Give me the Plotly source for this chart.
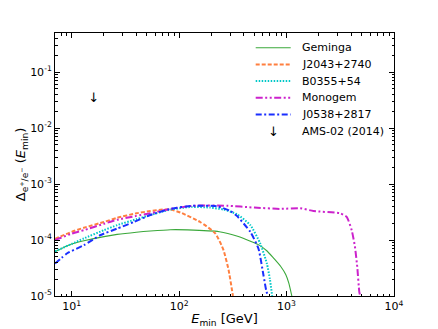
import plotly.graph_objects as go
import math

# ---- data ----
geminga_E = [7, 10, 13, 20, 26.5, 40, 54, 83, 120, 237, 350, 480, 556, 650, 740, 880, 985, 1050, 1120]
geminga_y = [6.2e-5, 8.5e-5, 9.7e-5, 1.15e-4, 1.26e-4, 1.38e-4, 1.45e-4, 1.53e-4, 1.52e-4,
             1.41e-4, 1.17e-4, 9.2e-5, 8.1e-5, 6.5e-5, 5.0e-5, 3.4e-5, 2.4e-5, 1.7e-5, 1.0e-5]

j2043_E = [7, 10, 13, 20, 26.5, 40, 54, 70, 83, 103, 157, 217, 259, 289, 317]
j2043_y = [1.05e-4, 1.4e-4, 1.66e-4, 2.1e-4, 2.5e-4, 3.0e-4, 3.3e-4, 3.5e-4, 3.5e-4,
           3.1e-4, 2.1e-4, 1.32e-4, 6.6e-5, 2.9e-5, 1.0e-5]

b0355_E = [7, 10, 13, 20, 26.5, 40, 54, 83, 130, 195, 260, 345, 460, 569, 656, 700, 735]
b0355_y = [6.3e-5, 8.5e-5, 1.07e-4, 1.5e-4, 1.85e-4, 2.35e-4, 2.8e-4, 3.5e-4, 3.9e-4,
           3.8e-4, 3.5e-4, 2.9e-4, 1.85e-4, 8.7e-5, 3.8e-5, 2.0e-5, 1.0e-5]

monogem_E = [7, 10, 13, 20, 26.5, 40, 54, 83, 136, 279, 500, 871, 1336, 1780, 3160, 3630,
             4040, 4330, 4550, 4750, 4850]
monogem_y = [1.0e-4, 1.3e-4, 1.5e-4, 1.95e-4, 2.3e-4, 2.7e-4, 3.0e-4, 3.6e-4, 4.1e-4,
             4.1e-4, 3.8e-4, 3.6e-4, 3.7e-4, 3.3e-4, 3.0e-4, 2.6e-4, 1.5e-4, 7.6e-5,
             3.3e-5, 1.2e-5, 1.0e-5]

j0538_E = [7, 9.1, 13, 18.6, 26.5, 37.9, 54, 83, 136, 226, 300, 345, 460, 548, 611, 650, 675]
j0538_y = [3.8e-5, 5.8e-5, 8.1e-5, 1.23e-4, 1.6e-4, 2.1e-4, 2.8e-4, 3.6e-4, 4.1e-4,
           4.0e-4, 3.3e-4, 2.7e-4, 1.4e-4, 7.0e-5, 2.3e-5, 1.2e-5, 1.0e-5]

ams_E = [16]
ams_y = [0.034]

x_tickvals = [10, 100, 1000, 10000]
x_ticktext = ["10<sup>1</sup>", "10<sup>2</sup>", "10<sup>3</sup>", "10<sup>4</sup>"]
y_tickvals = [1e-5, 1e-4, 1e-3, 1e-2, 1e-1]
y_ticktext = ["10<sup>-5</sup>", "10<sup>-4</sup>", "10<sup>-3</sup>", "10<sup>-2</sup>", "10<sup>-1</sup>"]

series = [
    ("Geminga", geminga_E, geminga_y, "#3aa83a", 1.1, "solid"),
    ("J2043+2740", j2043_E, j2043_y, "#ff7f3f", 2, "4px,2px"),
    ("B0355+54", b0355_E, b0355_y, "#00c8c8", 2, "1.5px,1.5px"),
    ("Monogem", monogem_E, monogem_y, "#cc22cc", 2, "7px,2.5px,2px,2.5px,2px,2.5px"),
    ("J0538+2817", j0538_E, j0538_y, "#1a2fff", 2, "6px,2.5px,2px,2.5px"),
]

FONT = "DejaVu Sans"
fig = go.Figure()
for name, E, y, color, w, dash in series:
    fig.add_trace(go.Scatter(x=E, y=y, mode="lines", name=name, showlegend=False,
                             line=dict(color=color, width=w, dash=dash, shape="spline", smoothing=0.5)))

fig.add_trace(go.Scatter(x=ams_E, y=ams_y, mode="text", text=["↓"], showlegend=False,
                         textfont=dict(size=13, color="black", family=FONT), name="AMS-02 (2014)"))

# page body has an 8px margin, so lay the figure out 8px up/left of the target pixels
OFF = 8
W, H = 438 - OFF, 329 - OFF
PL, PR, PT, PB = 55 - OFF, 394 - OFF, 33 - OFF, 296 - OFF
pw, ph = PR - PL, PB - PT
legend_labels = [s[0] for s in series] + ["AMS-02 (2014)"]
row0 = 1 - (47.7 - 33) / ph
drow = 16.7 / ph
x0s, x1s, xt = (255.7 - 55) / pw, (290.7 - 55) / pw, (300 - 55) / pw
for i, lab in enumerate(legend_labels):
    yy = row0 - i * drow
    if i < len(series):
        _, _, _, color, w, dash = series[i]
        fig.add_shape(type="line", xref="paper", yref="paper", x0=x0s, x1=x1s, y0=yy, y1=yy,
                      line=dict(color=color, width=w, dash=dash))
    else:
        fig.add_annotation(xref="paper", yref="paper", x=(x0s + x1s) / 2, y=yy, text="↓",
                           showarrow=False, font=dict(size=13, color="black", family=FONT),
                           xanchor="center", yanchor="middle")
    fig.add_annotation(xref="paper", yref="paper", x=xt, y=yy, text=lab, showarrow=False,
                       font=dict(size=11, color="black", family=FONT), xanchor="left", yanchor="middle")

x_minor = [m * 10 ** d for d in range(0, 4) for m in range(2, 10)]
y_minor = [m * 10.0 ** d for d in range(-5, 0) for m in range(2, 10)]

def axis_common(minor_vals):
    return dict(type="log", showline=True, linecolor="black", linewidth=1, mirror="allticks",
                ticks="inside", ticklen=5, tickwidth=1, tickcolor="black", showgrid=False,
                zeroline=False, automargin=False, tickfont=dict(size=11, family=FONT, color="black"),
                minor=dict(ticks="inside", ticklen=2.5, tickwidth=1, tickcolor="black",
                           tickvals=minor_vals, showgrid=False))

fig.update_xaxes(**axis_common(x_minor), range=[math.log10(7), 4], tickvals=x_tickvals, ticktext=x_ticktext,
                 title=dict(text="<i>E</i><sub>min</sub> [GeV]", font=dict(size=13, family=FONT, color="black"),
                            standoff=1))
fig.update_yaxes(**axis_common(y_minor), range=[-5, math.log10(0.5)], tickvals=y_tickvals, ticktext=y_ticktext,
                 title=dict(text="Δ<sub>e<sup>+</sup>/e<sup>−</sup></sub> (<i>E</i><sub>min</sub>)",
                            font=dict(size=13, family=FONT, color="black"), standoff=1))

fig.update_layout(width=W, height=H, margin=dict(l=PL, r=W - PR, t=PT, b=H - PB),
                  plot_bgcolor="white", paper_bgcolor="white", font=dict(family=FONT))
fig.write_html("out.html")
